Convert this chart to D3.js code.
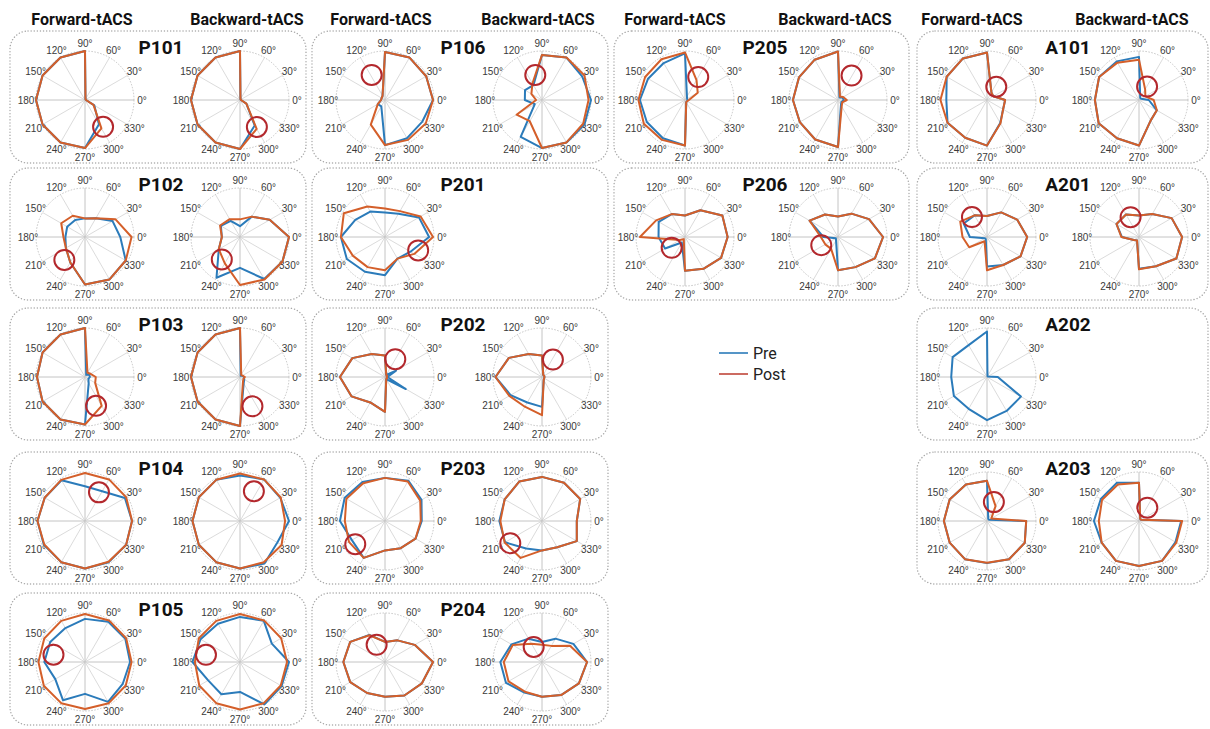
<!DOCTYPE html>
<html><head><meta charset="utf-8">
<script src="https://cdn.jsdelivr.net/npm/d3@7"></script>
<style>body{margin:0;background:#fff} svg{display:block}</style>
</head><body><svg id="chart" width="1210" height="729"></svg>
<script>
// Phase bins (degrees) and their tick labels
const angleTicks = [0, 30, 60, 90, 120, 150, 180, 210, 240, 270, 300, 330];
const tickLabels = angleTicks.map(a => a + "°");
const conditionLabels = ["Forward-tACS", "Backward-tACS"];
const seriesNames = ["Pre", "Post"];

// Normalised amplitude per phase bin, order 0°..330°
const P101_fwd_pre  = [0.02,0.02,0.02,1.00,1.00,1.00,1.00,1.00,1.00,0.98,0.57,0.22];
const P101_fwd_post = [0.02,0.02,0.02,1.00,1.00,1.00,1.00,1.00,1.00,0.98,0.67,0.20];
const P101_bwd_pre  = [0.02,0.02,0.02,1.00,1.00,1.00,1.00,1.00,1.00,1.00,0.60,0.15];
const P101_bwd_post = [0.02,0.02,0.02,1.00,1.00,1.00,1.00,1.00,1.00,1.00,0.68,0.15];

const P102_fwd_pre  = [0.72,0.65,0.44,0.38,0.40,0.42,0.40,0.45,0.60,0.97,1.00,0.96];
const P102_fwd_post = [0.95,0.72,0.44,0.38,0.50,0.56,0.44,0.45,0.60,0.97,1.00,0.96];
const P102_bwd_pre  = [1.00,0.70,0.48,0.22,0.38,0.45,0.37,0.50,0.96,0.63,0.99,1.00];
const P102_bwd_post = [1.00,0.70,0.48,0.36,0.42,0.47,0.37,0.50,0.62,0.98,1.00,1.00];

const P103_fwd_pre  = [0.10,0.10,0.05,1.00,1.00,1.00,0.98,1.00,1.00,0.97,0.15,0.08];
const P103_fwd_post = [0.22,0.13,0.10,1.00,1.00,1.00,0.98,1.00,1.00,0.97,0.68,0.24];
const P103_bwd_pre  = [0.08,0.05,0.03,1.00,1.00,1.00,1.00,1.00,1.00,1.00,0.15,0.10];
const P103_bwd_post = [0.10,0.06,0.05,1.00,1.00,1.00,1.00,1.00,1.00,1.00,0.12,0.08];

const P104_fwd_pre  = [0.96,0.94,0.70,0.71,0.96,0.95,0.97,0.97,0.97,0.97,0.97,0.97];
const P104_fwd_post = [0.96,0.97,0.98,0.98,0.97,0.95,0.97,0.96,0.97,0.97,0.96,0.97];
const P104_bwd_pre  = [1.00,0.95,0.98,0.93,0.97,0.97,0.97,0.97,0.97,0.97,1.00,0.88];
const P104_bwd_post = [0.92,0.96,0.98,0.97,0.97,0.97,0.97,0.97,0.97,0.97,0.97,0.98];

const P105_fwd_pre  = [0.92,0.95,0.95,0.88,0.80,0.82,0.83,0.70,0.90,0.65,0.94,0.89];
const P105_fwd_post = [0.95,0.97,0.98,0.98,0.97,0.96,0.95,0.97,0.97,0.96,0.97,0.96];
const P105_bwd_pre  = [1.00,0.75,0.97,0.92,0.90,0.93,0.97,0.75,0.76,0.61,1.00,0.98];
const P105_bwd_post = [0.96,0.97,0.98,0.98,0.97,0.97,0.92,0.96,0.97,0.97,0.97,0.96];

const P106_fwd_pre  = [0.98,0.97,1.00,0.98,0.10,0.08,0.08,0.17,0.15,0.92,0.90,0.88];
const P106_fwd_post = [0.98,0.97,1.00,0.98,0.10,0.08,0.08,0.17,0.58,0.92,0.94,0.96];
const P106_bwd_pre  = [1.00,0.95,1.00,0.92,0.35,0.40,0.35,0.17,0.87,0.98,1.00,1.00];
const P106_bwd_post = [0.95,1.00,1.00,0.92,0.39,0.25,0.12,0.60,0.50,0.98,1.00,0.97];

const P201_fwd_pre  = [0.90,0.80,0.55,0.50,0.60,0.70,0.90,0.90,0.82,0.78,0.51,0.60];
const P201_fwd_post = [0.98,0.84,0.61,0.58,0.72,0.97,0.90,0.76,0.71,0.68,0.51,0.69];

const P202_fwd_pre  = [0.05,0.26,0.05,0.44,0.54,0.77,0.92,0.79,0.60,0.71,0.05,0.49];
const P202_fwd_post = [0.03,0.05,0.05,0.44,0.54,0.77,0.92,0.79,0.60,0.71,0.05,0.05];
const P202_bwd_pre  = [0.05,0.05,0.05,0.44,0.54,0.78,0.95,0.74,0.60,0.61,0.07,0.05];
const P202_bwd_post = [0.05,0.05,0.05,0.44,0.54,0.78,0.95,0.77,0.70,0.78,0.07,0.05];

const P203_fwd_pre  = [0.75,0.86,0.95,0.88,0.92,0.95,0.92,0.78,0.87,0.60,0.64,0.72];
const P203_fwd_post = [0.73,0.83,0.93,0.88,0.89,0.91,0.82,0.85,0.87,0.60,0.64,0.72];
const P203_bwd_pre  = [0.71,0.90,0.90,0.90,0.93,0.88,0.87,0.87,0.65,0.60,0.62,0.82];
const P203_bwd_post = [0.71,0.90,0.90,0.90,0.93,0.88,0.85,0.88,0.87,0.60,0.62,0.82];

const P204_fwd_pre  = [0.98,0.70,0.51,0.41,0.64,0.82,0.85,0.82,0.73,0.71,0.79,0.87];
const P204_fwd_post = [0.98,0.70,0.51,0.41,0.63,0.82,0.85,0.82,0.73,0.71,0.79,0.87];
const P204_bwd_pre  = [0.92,0.74,0.55,0.41,0.55,0.72,0.85,0.85,0.72,0.71,0.78,0.87];
const P204_bwd_post = [0.92,0.66,0.38,0.35,0.43,0.69,0.78,0.79,0.70,0.71,0.78,0.87];

const P205_fwd_pre  = [0.05,0.05,0.08,0.95,0.87,0.87,0.92,0.90,0.90,0.93,0.05,0.05];
const P205_fwd_post = [0.08,0.30,0.47,0.97,0.96,0.94,0.95,0.97,0.94,0.93,0.05,0.05];
const P205_bwd_pre  = [0.12,0.10,0.06,0.99,0.95,0.92,0.92,0.90,0.93,0.96,0.12,0.08];
const P205_bwd_post = [0.18,0.12,0.08,0.99,0.95,0.92,0.92,0.90,0.93,0.96,0.15,0.10];

const P206_fwd_pre  = [0.87,0.88,0.63,0.44,0.54,0.62,0.54,0.47,0.13,0.69,0.75,0.85];
const P206_fwd_post = [0.87,0.88,0.63,0.44,0.54,0.68,0.92,0.12,0.05,0.69,0.75,0.85];
const P206_bwd_pre  = [0.92,0.73,0.55,0.42,0.53,0.67,0.30,0.05,0.08,0.68,0.71,0.87];
const P206_bwd_post = [0.92,0.73,0.55,0.42,0.53,0.67,0.35,0.30,0.28,0.68,0.71,0.87];

const A101_fwd_pre  = [0.37,0.15,0.18,0.97,0.98,0.95,0.83,0.93,0.89,0.93,0.54,0.38];
const A101_fwd_post = [0.37,0.15,0.18,0.97,0.98,0.95,0.95,0.93,0.89,0.93,0.55,0.38];
const A101_bwd_pre  = [0.20,0.05,0.05,0.88,0.91,0.94,0.90,0.95,0.90,0.93,0.48,0.42];
const A101_bwd_post = [0.30,0.15,0.25,0.82,0.88,0.94,0.90,0.95,0.90,0.93,0.48,0.42];

const A201_fwd_pre  = [0.82,0.71,0.58,0.43,0.51,0.55,0.35,0.05,0.05,0.60,0.66,0.79];
const A201_fwd_post = [0.82,0.71,0.58,0.43,0.51,0.63,0.50,0.42,0.10,0.68,0.66,0.79];
const A201_bwd_pre  = [0.88,0.77,0.54,0.44,0.53,0.53,0.35,0.12,0.08,0.65,0.69,0.88];
const A201_bwd_post = [0.88,0.77,0.54,0.44,0.53,0.53,0.36,0.12,0.08,0.66,0.69,0.88];

const A202_fwd_pre  = [0.22,0.02,0.02,0.93,0.75,0.81,0.73,0.78,0.75,0.88,0.80,0.80];

const A203_fwd_pre  = [0.80,0.05,0.05,0.82,0.86,0.88,0.88,0.88,0.90,0.86,0.90,0.89];
const A203_fwd_post = [0.80,0.10,0.35,0.82,0.86,0.88,0.88,0.88,0.90,0.85,0.90,0.89];
const A203_bwd_pre  = [0.86,0.05,0.05,0.78,0.90,0.90,0.92,0.88,0.94,0.92,0.94,0.86];
const A203_bwd_post = [0.88,0.05,0.05,0.78,0.86,0.87,0.82,0.88,0.94,0.92,0.94,0.88];

// Stimulation target phase: [angle in degrees, normalised radius]
const P101_fwd_target = [304,0.66], P101_bwd_target = [302,0.65];
const P102_fwd_target = [228,0.63], P102_bwd_target = [231,0.59];
const P103_fwd_target = [291,0.63], P103_bwd_target = [293,0.65];
const P104_fwd_target = [64,0.65],  P104_bwd_target = [65,0.67];
const P105_fwd_target = [167,0.66], P105_bwd_target = [168,0.71];
const P106_fwd_target = [118,0.58], P106_bwd_target = [105,0.53];
const P201_fwd_target = [338,0.73];
const P202_fwd_target = [60,0.42],  P202_bwd_target = [58,0.42];
const P203_fwd_target = [218,0.77], P203_bwd_target = [215,0.79];
const P204_fwd_target = [116,0.39], P204_bwd_target = [119,0.35];
const P205_fwd_target = [60,0.54],  P205_bwd_target = [61,0.57];
const P206_fwd_target = [219,0.35], P206_bwd_target = [206,0.38];
const A101_fwd_target = [55,0.33],  A101_bwd_target = [59,0.32];
const A201_fwd_target = [127,0.51], A201_bwd_target = [113,0.44];
const A203_fwd_target = [70,0.41],  A203_bwd_target = [58,0.32];

// Panels: name, column, row, and the polar plots they hold
const panels = [
  {name:"P101", col:0, row:0, plots:[[P101_fwd_pre,P101_fwd_post,P101_fwd_target],[P101_bwd_pre,P101_bwd_post,P101_bwd_target]]},
  {name:"P102", col:0, row:1, plots:[[P102_fwd_pre,P102_fwd_post,P102_fwd_target],[P102_bwd_pre,P102_bwd_post,P102_bwd_target]]},
  {name:"P103", col:0, row:2, plots:[[P103_fwd_pre,P103_fwd_post,P103_fwd_target],[P103_bwd_pre,P103_bwd_post,P103_bwd_target]]},
  {name:"P104", col:0, row:3, plots:[[P104_fwd_pre,P104_fwd_post,P104_fwd_target],[P104_bwd_pre,P104_bwd_post,P104_bwd_target]]},
  {name:"P105", col:0, row:4, plots:[[P105_fwd_pre,P105_fwd_post,P105_fwd_target],[P105_bwd_pre,P105_bwd_post,P105_bwd_target]]},
  {name:"P106", col:1, row:0, plots:[[P106_fwd_pre,P106_fwd_post,P106_fwd_target],[P106_bwd_pre,P106_bwd_post,P106_bwd_target]]},
  {name:"P201", col:1, row:1, plots:[[P201_fwd_pre,P201_fwd_post,P201_fwd_target]]},
  {name:"P202", col:1, row:2, plots:[[P202_fwd_pre,P202_fwd_post,P202_fwd_target],[P202_bwd_pre,P202_bwd_post,P202_bwd_target]]},
  {name:"P203", col:1, row:3, plots:[[P203_fwd_pre,P203_fwd_post,P203_fwd_target],[P203_bwd_pre,P203_bwd_post,P203_bwd_target]]},
  {name:"P204", col:1, row:4, plots:[[P204_fwd_pre,P204_fwd_post,P204_fwd_target],[P204_bwd_pre,P204_bwd_post,P204_bwd_target]]},
  {name:"P205", col:2, row:0, plots:[[P205_fwd_pre,P205_fwd_post,P205_fwd_target],[P205_bwd_pre,P205_bwd_post,P205_bwd_target]]},
  {name:"P206", col:2, row:1, plots:[[P206_fwd_pre,P206_fwd_post,P206_fwd_target],[P206_bwd_pre,P206_bwd_post,P206_bwd_target]]},
  {name:"A101", col:3, row:0, plots:[[A101_fwd_pre,A101_fwd_post,A101_fwd_target],[A101_bwd_pre,A101_bwd_post,A101_bwd_target]]},
  {name:"A201", col:3, row:1, plots:[[A201_fwd_pre,A201_fwd_post,A201_fwd_target],[A201_bwd_pre,A201_bwd_post,A201_bwd_target]]},
  {name:"A202", col:3, row:2, plots:[[A202_fwd_pre,null,null]]},
  {name:"A203", col:3, row:3, plots:[[A203_fwd_pre,A203_fwd_post,A203_fwd_target],[A203_bwd_pre,A203_bwd_post,A203_bwd_target]]}
];

// ---- layout ----
const boxX = [10, 312, 614, 917];
const boxW = [296, 296, 295, 291];
const plotX = [[85,240],[385,542],[685,838],[987,1139]];
const headerX = [[82,247],[381,538],[675,835],[972,1132]];
const rowY = [100, 237, 377, 521, 662];
const R = 49, labelR = 57;
const preColor = "#2b7bba", postColor = "#d45f2a", targetColor = "#b3282d";

const svg = d3.select("#chart");
const rScale = d3.scaleLinear().domain([0, 1]).range([0, R]);
// d3 radial angle runs clockwise from 12 o'clock; phase runs counter-clockwise from 3 o'clock
const toRadial = deg => Math.PI / 2 - deg * Math.PI / 180;
const line = d3.lineRadial()
  .angle((d, i) => toRadial(angleTicks[i]))
  .radius(d => rScale(d))
  .curve(d3.curveLinearClosed);

// column headers
headerX.forEach(xs => xs.forEach((x, k) => {
  svg.append("text").attr("x", x).attr("y", 25).attr("text-anchor", "middle")
    .attr("font-family", "Roboto, sans-serif").attr("font-weight", 700).attr("font-size", 16)
    .attr("fill", "#111").text(conditionLabels[k]);
}));

function polar(g, pre, post, target) {
  // spokes
  angleTicks.forEach(a => {
    const t = a * Math.PI / 180;
    g.append("line").attr("x1", 0).attr("y1", 0)
      .attr("x2", R * Math.cos(t)).attr("y2", -R * Math.sin(t))
      .attr("stroke", a % 90 === 0 ? "#b5b5b5" : "#d2d2d2").attr("stroke-width", 0.8);
  });
  g.append("circle").attr("r", R).attr("fill", "none")
    .attr("stroke", "#bdbdbd").attr("stroke-width", 0.9).attr("stroke-dasharray", "1.5,1.5");
  // angle labels
  angleTicks.forEach((a, i) => {
    const t = a * Math.PI / 180;
    g.append("text").attr("x", labelR * Math.cos(t)).attr("y", -labelR * Math.sin(t))
      .attr("text-anchor", "middle").attr("dominant-baseline", "central")
      .attr("font-family", "'Liberation Sans', Arial, sans-serif").attr("font-size", 10)
      .attr("fill", "#3a3a3a").text(tickLabels[i]);
  });
  if (pre) g.append("path").attr("d", line(pre)).attr("fill", "none")
    .attr("stroke", preColor).attr("stroke-width", 2).attr("stroke-linejoin", "round");
  if (post) g.append("path").attr("d", line(post)).attr("fill", "none")
    .attr("stroke", postColor).attr("stroke-width", 2).attr("stroke-linejoin", "round");
  if (target) {
    const t = target[0] * Math.PI / 180, rr = rScale(target[1]);
    g.append("circle").attr("cx", rr * Math.cos(t)).attr("cy", -rr * Math.sin(t)).attr("r", 10)
      .attr("fill", "none").attr("stroke", targetColor).attr("stroke-width", 2);
  }
}

panels.forEach(p => {
  const cy = rowY[p.row];
  svg.append("rect").attr("x", boxX[p.col]).attr("y", cy - 69)
    .attr("width", boxW[p.col]).attr("height", 132).attr("rx", 18)
    .attr("fill", "none").attr("stroke", "#a8a8a8").attr("stroke-width", 1.4)
    .attr("stroke-dasharray", "0.1,3").attr("stroke-linecap", "round");
  p.plots.forEach((pl, k) => {
    const g = svg.append("g").attr("transform", `translate(${plotX[p.col][k]},${cy})`);
    polar(g, pl[0], pl[1], pl[2]);
  });
  svg.append("text").attr("x", boxX[p.col] + 151).attr("y", cy - 46)
    .attr("text-anchor", "middle").attr("font-family", "Roboto, sans-serif")
    .attr("font-weight", 700).attr("font-size", 19).attr("fill", "#111").text(p.name);
});

// legend
const legend = svg.append("g").attr("transform", "translate(719,353)");
seriesNames.forEach((s, i) => {
  legend.append("line").attr("x1", 0).attr("x2", 29).attr("y1", i * 21).attr("y2", i * 21)
    .attr("stroke", i === 0 ? preColor : "#c0463a").attr("stroke-width", 1.6);
  legend.append("text").attr("x", 34).attr("y", i * 21).attr("dominant-baseline", "central")
    .attr("font-family", "Roboto, sans-serif").attr("font-size", 16).attr("fill", "#222").text(s);
});
</script></body></html>
